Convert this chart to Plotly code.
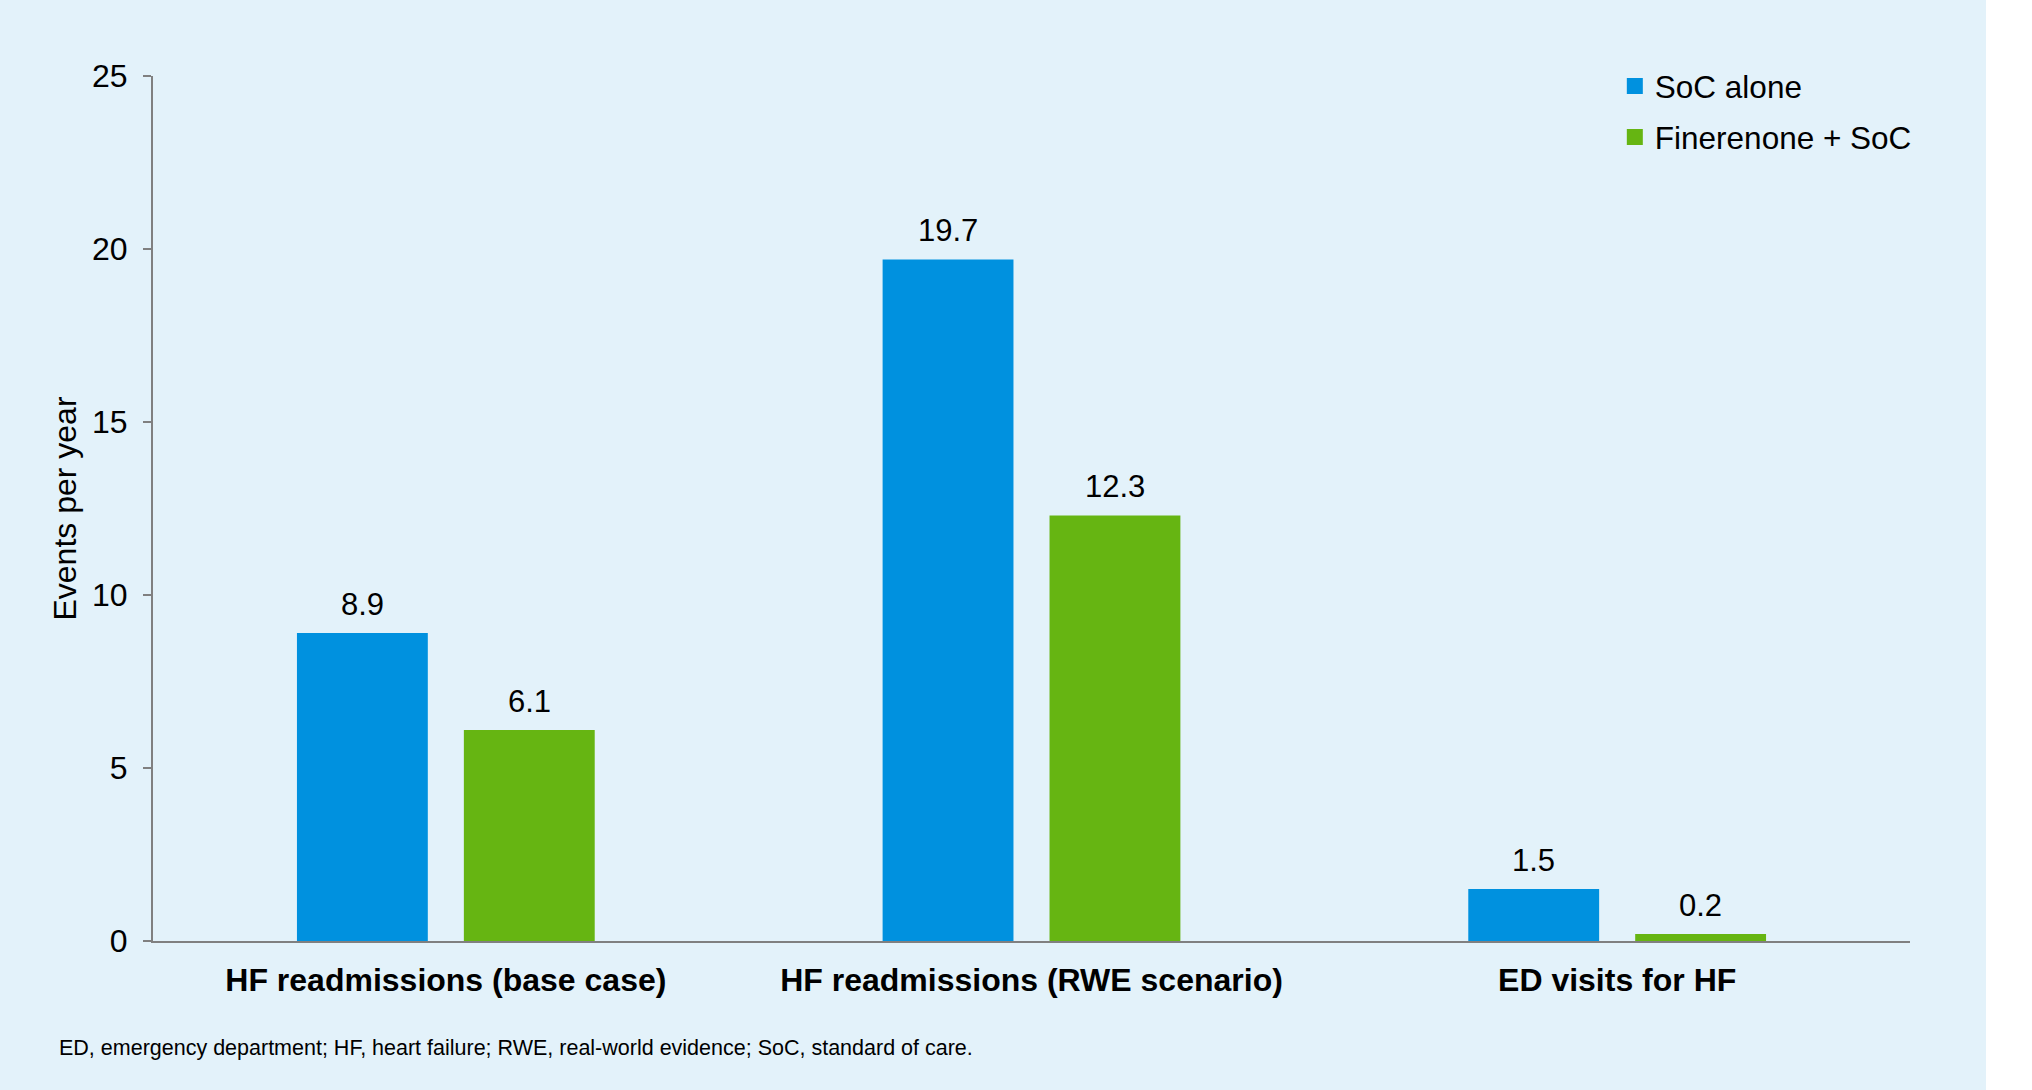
import plotly.graph_objects as go

categories = ["HF readmissions (base case)", "HF readmissions (RWE scenario)", "ED visits for HF"]
soc_alone = [8.9, 19.7, 1.5]
finerenone_soc = [6.1, 12.3, 0.2]
series_names = ["SoC alone", "Finerenone + SoC"]
y_ticks = [0, 5, 10, 15, 20, 25]
y_title = "Events per year"
footnote = "ED, emergency department; HF, heart failure; RWE, real-world evidence; SoC, standard of care."

BLUE = "#0091DF"
GREEN = "#66B512"
BG = "#E3F2FA"
FONT = "Liberation Sans, Arial, sans-serif"
BARGAP = 0.43
BARGROUPGAP = 0.216

fig = go.Figure()
for name, vals, col in [(series_names[0], soc_alone, BLUE), (series_names[1], finerenone_soc, GREEN)]:
    fig.add_trace(go.Bar(
        x=categories, y=vals, name=name, marker=dict(color=col, line=dict(width=0)),
        legendgroup=name, showlegend=False, hoverinfo="x+y+name",
    ))
    # legend entry with a larger square swatch
    fig.add_trace(go.Scatter(
        x=[None], y=[None], mode="markers", name=name, legendgroup=name,
        marker=dict(symbol="square", size=16, color=col, line=dict(width=0)),
        hoverinfo="skip",
    ))

# value labels above the bars
offset = (1 - BARGAP) / 4
for i, cat in enumerate(categories):
    for vals, sign in [(soc_alone, -1), (finerenone_soc, 1)]:
        fig.add_annotation(
            x=i + sign * offset, y=vals[i], xref="x", yref="y",
            text=f"{vals[i]:.1f}", showarrow=False, yanchor="bottom",
            yshift=9, font=dict(family=FONT, size=31, color="#000000"),
        )

fig.add_annotation(
    x=-0.0545, y=-0.1237, xref="paper", yref="paper", xanchor="left", yanchor="middle",
    text=footnote, showarrow=False, font=dict(family=FONT, size=21.5, color="#000000"),
)

fig.update_layout(
    width=1986, height=1090,
    margin=dict(l=153, r=76, t=76, b=149, pad=0),
    paper_bgcolor=BG, plot_bgcolor=BG,
    barmode="group", bargap=BARGAP, bargroupgap=BARGROUPGAP,
    font=dict(family=FONT, size=31, color="#000000"),
    showlegend=True,
    legend=dict(
        x=0.832, y=1.0195, xanchor="left", yanchor="top",
        bgcolor="rgba(0,0,0,0)", borderwidth=0,
        font=dict(family=FONT, size=31.5, color="#000000"),
        traceorder="grouped", tracegroupgap=7, itemsizing="trace",
    ),
    xaxis=dict(
        showline=True, linecolor="#808080", linewidth=2,
        ticks="", showgrid=False, zeroline=False,
        tickfont=dict(family=FONT, size=32, color="#000000", weight="bold"),
        ticklabelstandoff=10,
    ),
    yaxis=dict(
        range=[0, 25], tickvals=y_ticks, showline=True, linecolor="#808080", linewidth=2,
        ticks="outside", ticklen=8, tickcolor="#808080", tickwidth=2,
        showgrid=False, zeroline=False,
        tickfont=dict(family=FONT, size=32, color="#000000"),
        ticklabelstandoff=9,
        title=dict(text=y_title, font=dict(family=FONT, size=32, color="#000000"), standoff=6),
    ),
)

fig.write_html("out.html")
